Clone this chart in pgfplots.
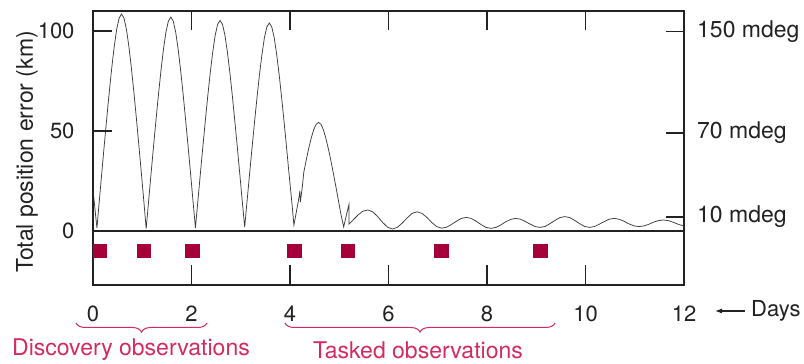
\documentclass[border=0pt]{standalone}
\usepackage{pgfplots}
\pgfplotsset{compat=1.18}
\usepackage{fontspec}
\setmainfont{TeX Gyre Heros}
\usetikzlibrary{decorations.pathreplacing,arrows.meta}
\definecolor{inkgray}{HTML}{222222}
\definecolor{curvegray}{HTML}{3C3C3C}
\definecolor{obsred}{HTML}{A6003A}
\definecolor{bracepink}{HTML}{D42A5E}
\newcommand{\lbl}{\fontsize{22}{26}\selectfont}
\newcommand{\lblbig}{\fontsize{23}{27}\selectfont}

\begin{document}
\begin{tikzpicture}
\useasboundingbox (-93pt,-79pt) rectangle (711pt,285pt);
\begin{axis}[
  at={(0pt,0pt)}, anchor=south west,
  scale only axis, width=591pt, height=274pt,
  xmin=0, xmax=12, ymin=-27, ymax=110,
  axis line style={draw=inkgray, line width=1.1pt},
  xtick={0,2,...,12}, ytick={0,50,100},
  major tick length=0pt,
  ticklabel style={font=\lbl, text=inkgray},
  xticklabel style={yshift=-17pt},
  yticklabel style={xshift=-15pt},
  /pgf/number format/assume math mode=true,
  clip=false,
]
% position error (km) against time (days)
\addplot[curvegray, line width=0.75pt] coordinates {
(0,20.5) (0.08,1.5) (0.13,15.5) (0.18,29.5) (0.23,43.2) (0.28,56.6) (0.33,69.4)
(0.38,81.4) (0.43,92.0) (0.48,100.7) (0.53,106.4) (0.58,108.5) (0.63,106.4)
(0.68,100.7) (0.73,92.0) (0.78,81.4) (0.83,69.4) (0.88,56.6) (0.93,43.2)
(0.98,29.5) (1.03,15.5) (1.08,1.2)
(1.13,15.2) (1.18,29.0) (1.23,42.5) (1.28,55.7) (1.33,68.4) (1.38,80.2)
(1.43,90.7) (1.48,99.3) (1.53,104.9) (1.58,107.0) (1.63,104.9) (1.68,99.3)
(1.73,90.7) (1.78,80.2) (1.83,68.4) (1.88,55.7) (1.93,42.5) (1.98,29.0)
(2.03,15.2) (2.08,1.5)
(2.13,15.1) (2.18,28.7) (2.23,42.0) (2.28,54.9) (2.33,67.4) (2.38,79.0)
(2.43,89.3) (2.48,97.7) (2.53,103.3) (2.58,105.3) (2.63,103.3) (2.68,97.7)
(2.73,89.3) (2.78,79.0) (2.83,67.4) (2.88,54.9) (2.93,42.0) (2.98,28.7)
(3.03,15.1) (3.08,2.0)
(3.13,15.4) (3.18,28.7) (3.23,41.8) (3.28,54.5) (3.33,66.7) (3.38,78.2)
(3.43,88.2) (3.48,96.6) (3.53,102.0) (3.58,104.0) (3.63,102.0) (3.68,96.6)
(3.73,88.2) (3.78,78.2) (3.83,66.7) (3.88,54.5) (3.93,41.8) (3.98,28.7)
(4.03,16.3) (4.08,3.0)
(4.13,9.7) (4.18,16.4) (4.20,20.0) (4.21,14.5) (4.25,22.0) (4.28,29.4)
(4.33,35.5) (4.38,41.3) (4.43,46.4) (4.48,50.6) (4.53,53.3) (4.58,54.3)
(4.63,53.3) (4.68,50.5) (4.73,46.2) (4.78,41.0) (4.83,35.2) (4.88,28.9)
(4.93,22.4) (4.98,15.7) (5.03,8.9) (5.09,2.0) (5.15,8.5) (5.20,13.5) (5.20,3.5)
(5.28,5.5) (5.38,8.0) (5.48,9.9) (5.58,10.5) (5.68,9.6) (5.78,7.2)
(5.88,4.3) (5.98,1.9) (6.08,1.0)
(6.18,1.8) (6.28,4.0) (6.38,6.6) (6.48,8.8) (6.58,9.6) (6.68,8.8)
(6.78,6.8) (6.88,4.2) (6.98,2.2) (7.08,1.4)
(7.18,1.9) (7.28,3.3) (7.38,4.9) (7.48,6.3) (7.58,6.8) (7.68,6.3)
(7.78,4.9) (7.88,3.2) (7.98,1.8) (8.08,1.3)
(8.18,1.8) (8.28,3.0) (8.38,4.6) (8.48,5.8) (8.58,6.3) (8.68,5.9)
(8.78,4.7) (8.88,3.4) (8.98,2.2) (9.08,1.8)
(9.18,2.3) (9.28,3.7) (9.38,5.3) (9.48,6.7) (9.58,7.2) (9.68,6.7)
(9.78,5.3) (9.88,3.7) (9.98,2.3) (10.08,1.8)
(10.18,2.2) (10.28,3.4) (10.38,4.7) (10.48,5.9) (10.58,6.3) (10.68,5.9)
(10.78,4.9) (10.88,3.6) (10.98,2.6) (11.08,2.2)
(11.18,2.5) (11.28,3.3) (11.38,4.4) (11.48,5.2) (11.58,5.5) (11.68,5.2)
(11.78,4.4) (11.88,3.4) (11.98,2.6) (12,2.5)
};
% observation times
\addplot[only marks, obsred, mark=square*, mark size=6.8pt,
  mark options={draw=none, fill=obsred}] coordinates {
(0.14,-9.8) (1.03,-9.8) (2.02,-9.8) (4.09,-9.8) (5.17,-9.8) (7.07,-9.8) (9.08,-9.8)
};
\draw[inkgray, line width=1.6pt] (axis cs:0,0) -- (axis cs:12,0);
\draw[inkgray, line width=1.6pt] (axis cs:0,-27) -- (axis cs:0,110);
\node[anchor=west, inner sep=0pt, font=\lblbig, text=inkgray] at ([xshift=13pt]axis cs:12,99.7) {150 mdeg};
\node[anchor=west, inner sep=0pt, font=\lblbig, text=inkgray] at ([xshift=13pt]axis cs:12,49) {70 mdeg};
\node[anchor=west, inner sep=0pt, font=\lblbig, text=inkgray] at ([xshift=13pt]axis cs:12,7) {10 mdeg};
\end{axis}
% inward ticks (frame is 591pt x 274pt; 49.25pt per day, 2pt per km above -27 km)
\begin{scope}[inkgray, line width=1.3pt]
  \foreach \x in {98.5,197,295.5,394,492.5} {
    \draw (\x pt,274pt) -- (\x pt,255pt);
    \draw (\x pt,0pt) -- (\x pt,20pt);
  }
  \draw (0pt,154pt) -- (19pt,154pt);
  \draw (0pt,254pt) -- (19pt,254pt);
  \draw (591pt,253.4pt) -- (573pt,253.4pt);
  \draw (591pt,152pt) -- (573pt,152pt);
  \draw (591pt,68pt) -- (573pt,68pt);
\end{scope}
% axis title and time arrow
\node[rotate=90, font=\lblbig, text=inkgray, inner sep=0pt] at (-66pt,133pt) {Total position error (km)};
\draw[inkgray, line width=1.1pt, -{Latex[length=7pt,width=5pt]}] (652pt,-26pt) -- (622pt,-26pt);
\node[anchor=west, inner sep=0pt, font=\lbl, text=inkgray] at (658pt,-26pt) {Days};
% observation campaign braces
\draw[bracepink, line width=1pt, decorate, decoration={brace, mirror, amplitude=9pt}]
  (-17pt,-38pt) -- (114pt,-38pt);
\draw[bracepink, line width=1pt, decorate, decoration={brace, mirror, amplitude=9pt}]
  (192pt,-38pt) -- (462pt,-38pt);
\node[font=\lblbig, text=bracepink, inner sep=0pt] at (38pt,-65pt) {Discovery observations};
\node[font=\lblbig, text=bracepink, inner sep=0pt] at (325pt,-65pt) {Tasked observations};
\end{tikzpicture}
\end{document}
